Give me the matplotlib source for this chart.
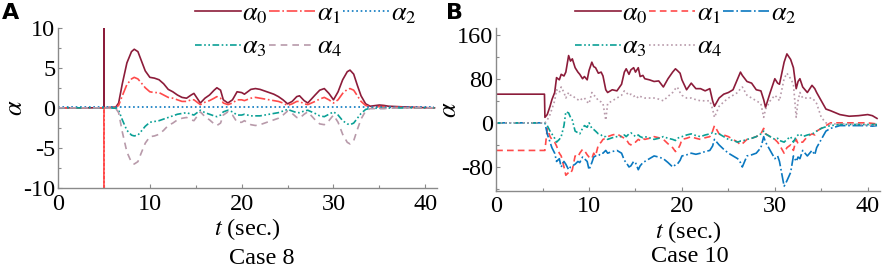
import numpy as np
import matplotlib
matplotlib.use('Agg')
import matplotlib.pyplot as plt
from matplotlib.ticker import MultipleLocator

plt.rcParams['font.family'] = ['Liberation Serif', 'DejaVu Serif']
plt.rcParams['mathtext.fontset'] = 'stix'
plt.rcParams['axes.unicode_minus'] = False

# ==========================================
# DATA: Case 8 (panel A)
# ==========================================
tA = [0, 4.99, 5.0, 5.01, 6.3, 6.6, 7.0, 7.5, 8.0, 8.3, 8.7, 9.0, 9.5, 10.0, 10.5, 11.0,
      11.5, 12.0, 12.5, 13.0, 13.5, 14.0, 14.5, 14.8, 15.5, 16.0, 16.5, 17.0, 17.3,
      17.7, 18.0, 18.5, 19.0, 19.5, 20.0, 20.3, 21.0, 21.5, 22.0, 22.5, 23.0, 23.5,
      24.0, 24.5, 25.0, 25.5, 26.0, 26.3, 26.8, 27.2, 27.6, 28.0, 28.5, 29.0, 29.5,
      30.0, 30.5, 31.0, 31.5, 31.8, 32.2, 32.6, 33.0, 33.5, 34.0, 35.0, 35.5, 36.0,
      37.0, 38.0, 39.0, 40.0, 41.0]
a0_A = [0, 0, 12, 0, 0.1, 0.6, 3.0, 5.6, 7.0, 7.3, 7.0, 6.1, 4.6, 3.8, 3.7, 3.5,
        3.0, 2.3, 2.0, 1.6, 1.3, 1.2, 1.6, 1.8, 0.6, 1.2, 1.6, 2.2, 2.5,
        2.2, 1.0, 0.6, 1.0, 2.0, 1.9, 1.7, 2.3, 2.4, 2.3, 2.1, 1.9, 1.7,
        1.4, 1.0, 0.5, 0.8, 1.4, 1.5, 0.9, 0.6, 1.1, 1.6, 2.2, 2.4, 1.8,
        1.0, 2.0, 3.5, 4.5, 4.7, 4.2, 2.8, 1.5, 0.5, 0.2, 0.35, 0.3, 0.2,
        0.15, 0.1, 0.05, 0.02, 0.0]
a1_A = [0, 0, -12, 0, 0.05, 0.3, 1.5, 2.9, 3.6, 3.8, 3.6, 3.2, 2.5, 2.0, 1.9, 1.9,
        1.6, 1.3, 1.2, 1.0, 0.8, 0.8, 1.0, 1.0, 0.4, 0.7, 0.9, 1.2, 1.4,
        1.2, 0.6, 0.4, 0.6, 1.0, 1.0, 0.9, 1.2, 1.3, 1.2, 1.1, 1.0, 0.9,
        0.8, 0.6, 0.3, 0.5, 0.8, 0.8, 0.5, 0.4, 0.6, 0.8, 1.1, 1.3, 1.0,
        0.6, 1.0, 1.8, 2.3, 2.4, 2.2, 1.5, 0.8, 0.3, 0.1, 0.15, 0.15, 0.1,
        0.08, 0.05, 0.03, 0.01, 0.0]
a2_A = [0.1] * len(tA)
a3_A = [0, 0, 0, 0, -0.05, -0.3, -1.5, -2.8, -3.4, -3.5, -3.4, -3.0, -2.3, -1.8, -1.7, -1.6,
        -1.4, -1.2, -1.0, -0.8, -0.7, -0.6, -0.8, -0.9, -0.3, -0.6, -0.8, -1.0, -1.1,
        -0.9, -0.5, -0.3, -0.5, -0.9, -0.9, -0.8, -1.0, -1.0, -1.0, -0.9, -0.8, -0.7,
        -0.6, -0.4, -0.2, -0.4, -0.6, -0.6, -0.4, -0.3, -0.5, -0.7, -1.0, -1.1, -0.8,
        -0.5, -0.9, -1.6, -2.0, -2.1, -1.9, -1.3, -0.7, -0.2, -0.05, -0.05, -0.05, -0.03,
        -0.02, -0.01, 0.0, 0.0, 0.0]
a4_A = [0, 0, 0, 0, -0.1, -0.6, -3.0, -5.5, -6.8, -7.0, -6.7, -5.8, -4.4, -3.6, -3.5, -3.3,
        -2.8, -2.2, -1.9, -1.5, -1.3, -1.2, -1.5, -1.6, -0.5, -1.1, -1.5, -2.0, -2.2,
        -1.9, -0.9, -0.5, -0.9, -1.8, -1.8, -1.6, -2.1, -2.2, -2.1, -1.9, -1.7, -1.5,
        -1.3, -0.9, -0.4, -0.7, -1.2, -1.3, -0.8, -0.5, -1.0, -1.5, -2.0, -2.1, -1.6,
        -0.9, -1.8, -3.3, -4.3, -4.5, -4.1, -2.7, -1.4, -0.4, -0.1, -0.1, -0.1, -0.05,
        -0.03, -0.02, -0.01, 0.0, 0.0]

# ==========================================
# DATA: Case 10 (panel B)
# ==========================================
tB = [0, 5.2, 5.25, 5.5, 5.8, 6.0, 6.3, 6.5, 6.8, 7.0, 7.3, 7.5, 7.8, 8.0, 8.2, 8.5,
      8.8, 9.0, 9.3, 9.5, 9.8, 10.0, 10.3, 10.5, 10.7, 11.0, 11.3, 11.5, 11.8, 12.0,
      12.5, 13.0, 13.5, 13.8, 14.0, 14.3, 14.5, 14.8, 15.0, 15.3, 15.5, 15.8, 16.0,
      16.5, 17.0, 17.5, 18.0, 18.5, 19.0, 19.3, 19.5, 19.8, 20.0, 20.5, 21.0, 21.5,
      22.0, 22.5, 23.0, 23.3, 23.5, 24.0, 24.5, 25.0, 25.5, 26.0, 26.3, 26.5, 27.0,
      27.5, 28.0, 28.5, 28.8, 29.0, 29.5, 30.0, 30.3, 30.5, 31.0, 31.3, 31.7, 32.0,
      32.3, 32.5, 32.7, 33.0, 33.5, 34.0, 34.3, 34.5, 35.0, 35.5, 36.0, 37.0, 38.0,
      39.0, 40.0, 40.5, 41.0]
a0_B = [52, 52, 10, 15, 30, 42, 55, 82, 78, 88, 85, 92, 122, 112, 116, 100,
        92, 88, 80, 84, 78, 95, 110, 102, 100, 90, 92, 85, 60, 55,
        60, 58, 70, 92, 98, 88, 96, 100, 92, 100, 84, 86, 80,
        78, 75, 76, 65, 80, 92, 98, 95, 90, 78, 60, 72, 62,
        62, 58, 62, 40, 30, 45, 52, 55, 60, 80, 92, 86, 75,
        72, 60, 58, 42, 28, 55, 80, 72, 70, 110, 125, 115, 100,
        62, 75, 80, 65, 55, 68, 62, 55, 40, 25, 22, 15, 12,
        13, 15, 13, 8]
a1_B = [-50, -50, -50, -10, -25, -30, -35, -42, -55, -60, -80, -95, -90, -92, -85, -60,
        -62, -55, -48, -50, -58, -62, -65, -55, -60, -40, -35, -30, -28, -25,
        -22, -20, -25, -28, -30, -38, -40, -35, -35, -30, -32, -28, -30,
        -28, -25, -27, -30, -38, -45, -52, -50, -40, -30, -28, -25, -28,
        -30, -27, -25, -15, -5, -20, -22, -25, -30, -35, -40, -38, -30,
        -28, -25, -20, -10, -20, -25, -30, -35, -40, -55, -45, -40, -50,
        -30, -38, -35, -35, -25, -20, -22, -15, -10, -5, 0, 0, 0,
        0, 0, -1, -2]
a2_B = [0, 0, 0, -20, -35, -45, -55, -70, -65, -80, -70, -75, -85, -80, -78, -75,
        -70, -72, -62, -65, -70, -85, -72, -62, -60, -60, -55, -55, -50, -55,
        -52, -50, -55, -68, -72, -80, -78, -70, -72, -85, -78, -72, -70,
        -65, -60, -62, -65, -72, -80, -76, -75, -68, -60, -58, -55, -57,
        -55, -52, -50, -42, -30, -40, -48, -55, -60, -65, -72, -80, -60,
        -58, -55, -45, -25, -35, -50, -65, -60, -70, -115, -105, -90, -60,
        -70, -62, -65, -50, -60, -50, -58, -45, -30, -15, -10, -5, -5,
        -5, -5, -6, -5]
a3_B = [0, 0, 0, -5, -15, -20, -28, -35, -30, -25, -5, 20, 18, 10, 5, -15,
        -18, -20, -10, -5, -8, 0, -10, -12, -15, -20, -22, -25, -25, -30,
        -27, -25, -25, -22, -25, -20, -18, -22, -25, -22, -25, -27, -25,
        -27, -30, -28, -25, -28, -30, -32, -28, -26, -25, -22, -20, -23,
        -25, -22, -20, -18, -20, -20, -25, -30, -32, -35, -33, -33, -30,
        -28, -25, -20, -15, -20, -25, -30, -28, -32, -35, -30, -25, -35,
        -25, -22, -20, -25, -22, -20, -18, -15, -10, -7, -5, -3, -3,
        -3, -3, -3, -3]
a4_B = [0, 0, 0, 5, 15, 25, 40, 60, 55, 65, 55, 45, 55, 50, 50, 45,
        42, 40, 45, 45, 38, 35, 55, 50, 48, 40, 38, 35, 5, 35,
        40, 45, 50, 58, 55, 50, 52, 48, 50, 45, 48, 46, 45,
        45, 45, 43, 40, 48, 55, 62, 65, 55, 50, 45, 45, 42,
        40, 40, 40, 25, 10, 30, 38, 45, 50, 55, 62, 65, 50,
        45, 40, 35, 10, 25, 40, 50, 45, 40, 80, 90, 80, 70,
        10, 40, 55, 45, 45, 45, 40, 35, 10, 0, -2, -2, -2,
        -3, -4, -4, -5]

labels = [r'$\alpha_0$', r'$\alpha_1$', r'$\alpha_2$', r'$\alpha_3$', r'$\alpha_4$']
maroon = '#8c1c3a'
red = '#ff4a4a'
blue = '#0a78c0'
teal = '#0aa096'
mauve = '#b89aaa'

# ==========================================
# PLOTTING
# ==========================================
fig = plt.figure(figsize=(8.86, 2.73), dpi=100)
axA = fig.add_axes([0.0655, 0.311, 0.428, 0.588])
axB = fig.add_axes([0.560, 0.3015, 0.433, 0.596])


def style_axes(ax):
    for s in ['top', 'right']:
        ax.spines[s].set_visible(False)
    for s in ['left', 'bottom']:
        ax.spines[s].set_color('#8a8a8a')
        ax.spines[s].set_linewidth(1.0)
    ax.tick_params(direction='in', length=3, width=0.8, color='#8a8a8a',
                   labelsize=17.5, pad=0)
    ax.tick_params(axis='x', pad=4)
    ax.tick_params(axis='y', pad=2)
    ax.tick_params(which='minor', direction='in', length=2, width=0.8, color='#8a8a8a')
    ax.xaxis.set_major_locator(MultipleLocator(10))
    ax.xaxis.set_minor_locator(MultipleLocator(5))
    ax.set_xlim(0, 41.3)
    ax.set_xlabel(r'$t$ (sec.)', fontsize=17.5, labelpad=1)
    ax.set_ylabel(r'$\alpha$', fontsize=19, labelpad=-3)


# Panel A
lw = 1.2
hA = []
hA += axA.plot(tA, a0_A, color=maroon, lw=lw, ls='-')
hA += axA.plot(tA, a1_A, color=red, lw=lw, ls='-.')
hA += axA.plot(tA, a2_A, color=blue, lw=lw, ls=':')
hA += axA.plot(tA, a3_A, color=teal, lw=lw, ls=(0, (4, 1.5, 1, 1.5, 1, 1.5)))
hA += axA.plot(tA, a4_A, color=mauve, lw=lw, ls=(0, (4, 3)))
axA.set_ylim(-10, 10)
axA.set_yticks([-10, -5, 0, 5, 10])
style_axes(axA)
axA.yaxis.set_minor_locator(MultipleLocator(2.5))

# Panel B
hB = []
hB += axB.plot(tB, a0_B, color=maroon, lw=lw, ls='-')
hB += axB.plot(tB, a1_B, color=red, lw=lw, ls=(0, (4, 2.5)))
hB += axB.plot(tB, a2_B, color=blue, lw=lw, ls='-.')
hB += axB.plot(tB, a3_B, color=teal, lw=lw, ls=(0, (4, 1.5, 1, 1.5, 1, 1.5)))
hB += axB.plot(tB, a4_B, color=mauve, lw=lw, ls=':')
axB.set_ylim(-123, 172)
axB.set_yticks([-80, 0, 80, 160])
style_axes(axB)
axB.yaxis.set_minor_locator(MultipleLocator(40))

# Legends: row-major order over 3 columns
order = [0, 3, 1, 4, 2]
legkw = dict(ncol=3, frameon=False, fontsize=19, handlelength=1.75,
             handletextpad=0.05, columnspacing=0.05, labelspacing=0.35,
             borderaxespad=0, borderpad=0, loc='upper left')
fig.legend([hA[i] for i in order], [labels[i] for i in order],
           bbox_to_anchor=(195 / 886, 1 - 2 / 273), **legkw)
fig.legend([hB[i] for i in order], [labels[i] for i in order],
           bbox_to_anchor=(575 / 886, 1 - 2 / 273), **legkw)

# Panel letters and case captions
fig.text(0.002, 0.99, 'A', fontsize=16, fontweight='bold', family='DejaVu Sans', va='top')
fig.text(0.503, 0.99, 'B', fontsize=16, fontweight='bold', family='DejaVu Sans', va='top')
fig.text(262 / 886, 1 - 259 / 273, 'Case 8', fontsize=17.5, ha='center', va='center')
fig.text(690 / 886, 1 - 256 / 273, 'Case 10', fontsize=17.5, ha='center', va='center')

fig.savefig('out.png', dpi=100)
